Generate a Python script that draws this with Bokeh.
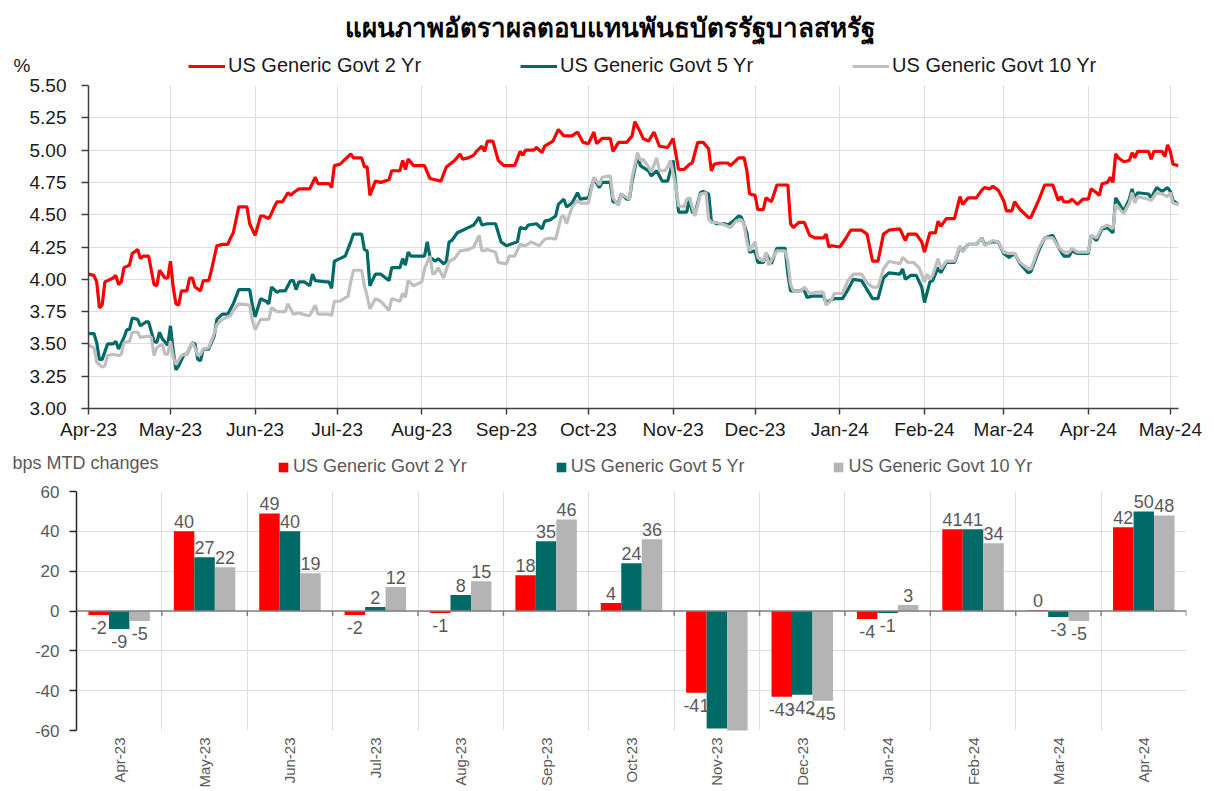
import numpy as np
import pandas as pd
from bokeh.plotting import figure
from bokeh.models import (ColumnDataSource, Range1d, FixedTicker, PrintfTickFormatter,
                          DatetimeTickFormatter, Legend, LegendItem, Label, LabelSet, Span)
from bokeh.layouts import column
from bokeh.core.properties import value
from bokeh.embed import file_html
from bokeh.resources import INLINE

# ---------------- data ----------------
TITLE = "แผนภาพอัตราผลตอบแทนพันธบัตรรัฐบาลสหรัฐ"
NAMES = ["US Generic Govt 2 Yr", "US Generic Govt 5 Yr", "US Generic Govt 10 Yr"]
START = "2023-04-01"          # day 0 of the day counts below
Y_TICKS = [3.00, 3.25, 3.50, 3.75, 4.00, 4.25, 4.50, 4.75, 5.00, 5.25, 5.50]

days_2y = [0, 2, 3, 4, 5, 6, 7, 9, 10, 11, 12, 13, 15, 16, 18, 19, 20, 22, 24, 25,
           26, 28, 29, 30, 31, 32, 33, 34, 36, 37, 38, 39, 41, 42, 44, 45, 47, 49, 51, 52,
           53, 55, 58, 59, 61, 63, 64, 66, 67, 68, 69, 71, 73, 74, 75, 77, 80, 81, 83, 84,
           88, 89, 90, 92, 94, 96, 97, 100, 101, 102, 103, 105, 107, 110, 111, 114, 115,
           116, 117, 119, 123, 125, 129, 131, 134, 136, 137, 139, 141, 142, 144, 145, 146, 148, 150, 152, 156,
           158, 159, 160, 163, 164, 166, 167, 170, 172, 174, 177, 179, 181, 183, 185, 186, 188, 191, 192, 194,
           197, 199, 200, 202, 203, 205, 207, 209, 212, 214, 215, 216, 218, 220, 221, 223, 225, 227, 228, 229,
           231, 234, 235, 238, 240, 241, 242, 244, 245, 247, 248, 250, 252, 256, 257, 258,
           260, 262, 264, 266, 269, 270, 271, 272, 275, 277, 279, 283, 285, 287, 289, 291, 293, 297, 299, 300,
           303, 305, 306, 308, 310, 311, 312, 314, 317, 319, 320, 322, 325, 327, 328, 330, 331, 333, 335, 336,
           338, 339, 341, 344, 345, 348, 350, 353, 355, 356, 357, 359, 360, 362, 364, 366, 367, 369, 370, 371,
           373, 374, 375, 376, 377, 379, 381, 382, 383, 384, 388, 389, 390, 393, 394, 395, 396, 397, 399]
yld_2y = [4.04, 4.03, 3.98, 3.78, 3.80, 3.98, 3.99, 4.01, 4.03, 3.96, 3.98, 4.09, 4.11, 4.20, 4.23, 4.16, 4.18, 4.18, 3.96, 3.95,
          4.07, 4.01, 4.01, 4.14, 3.94, 3.81, 3.80, 3.91, 3.91, 4.01, 4.01, 3.94, 3.91, 3.99, 3.99, 4.07, 4.26, 4.27, 4.27, 4.32,
          4.36, 4.56, 4.56, 4.43, 4.34, 4.49, 4.49, 4.47, 4.51, 4.56, 4.60, 4.60, 4.67, 4.65, 4.67, 4.70, 4.70, 4.70, 4.79, 4.74,
          4.74, 4.71, 4.88, 4.89, 4.93, 4.97, 4.94, 4.94, 4.87, 4.87, 4.65, 4.76, 4.75, 4.77, 4.84, 4.84, 4.92,
          4.85, 4.93, 4.88, 4.88, 4.78, 4.76, 4.87, 4.92, 4.97, 4.93, 4.94, 4.96, 4.99, 5.03, 4.99, 5.07, 5.07, 4.92, 4.88, 4.88,
          4.99, 4.96, 5.00, 5.00, 5.02, 4.98, 5.03, 5.07, 5.16, 5.11, 5.11, 5.14, 5.06, 5.05, 5.14, 5.05, 5.09, 5.09, 4.99, 5.06,
          5.06, 5.11, 5.22, 5.14, 5.09, 5.07, 5.14, 5.03, 5.02, 5.09, 4.97, 4.85, 4.85, 4.89, 4.90, 5.06, 5.06, 5.01, 4.84, 4.89,
          4.90, 4.90, 4.88, 4.94, 4.94, 4.84, 4.66, 4.65, 4.54, 4.54, 4.63, 4.60, 4.73, 4.73, 4.43, 4.40,
          4.44, 4.44, 4.34, 4.32, 4.32, 4.35, 4.25, 4.26, 4.25, 4.31, 4.38, 4.38, 4.35, 4.14, 4.14, 4.35, 4.38, 4.39, 4.30, 4.35,
          4.35, 4.29, 4.21, 4.36, 4.36, 4.45, 4.41, 4.47, 4.47, 4.64, 4.58, 4.63, 4.63, 4.69, 4.71, 4.70, 4.72, 4.69, 4.61, 4.53,
          4.53, 4.60, 4.54, 4.48, 4.48, 4.62, 4.73, 4.73, 4.61, 4.64, 4.60, 4.60, 4.62, 4.58, 4.62, 4.62, 4.70, 4.67, 4.65, 4.74,
          4.75, 4.79, 4.75, 4.97, 4.94, 4.91, 4.92, 4.98, 4.94, 4.99, 4.99, 4.93, 4.99, 4.99, 4.95, 5.04, 4.99, 4.89, 4.88]

days_5y = [0, 2, 3, 4, 5, 7, 9, 10, 11, 13, 14, 15, 16, 18, 19, 21, 22, 24, 25, 26,
           27, 29, 30, 31, 32, 33, 35, 36, 38, 39, 40, 41, 42, 44, 46, 47, 49, 51, 52, 53,
           55, 59, 60, 61, 63, 65, 66, 67, 69, 70, 72, 74, 75, 76, 77, 79, 81, 82, 83, 87,
           88, 89, 90, 92, 94, 96, 97, 100, 101, 102, 103, 105, 107, 110, 111, 114, 115,
           116, 117, 118, 123, 124, 125, 127, 128, 130, 131, 132, 133, 135, 137, 139, 141, 143, 144, 146, 149,
           151, 153, 157, 158, 160, 161, 164, 166, 167, 169, 171, 172, 174, 175, 177, 179, 180, 183, 185, 187,
           188, 191, 192, 194, 195, 197, 198, 199, 201, 202, 205, 206, 208, 210, 212, 214, 215, 216, 219, 220,
           221, 222, 224, 225, 227, 228, 230, 233, 234, 236, 238, 239, 241, 242, 244, 245, 247, 248, 250, 252,
           255, 256, 257,
           258, 260, 262, 263, 265, 269, 270, 273, 276, 278, 280, 283, 285, 287, 289, 291, 293, 297, 298, 299,
           301, 303, 305, 306, 308, 309, 311, 312, 314, 317, 319, 320, 322, 325, 327, 328, 331, 333, 335, 337,
           339, 341, 344, 345, 348, 350, 353, 355, 357, 359, 360, 362, 366, 367, 369, 371, 373, 375, 376, 378,
           379, 381, 382, 383, 384, 388, 389, 391, 393, 395, 396, 397, 399]
yld_5y = [3.58, 3.58, 3.51, 3.38, 3.38, 3.50, 3.50, 3.52, 3.46, 3.55, 3.61, 3.61, 3.70, 3.69, 3.64, 3.67, 3.67, 3.52, 3.51, 3.59,
          3.54, 3.49, 3.64, 3.45, 3.30, 3.33, 3.42, 3.42, 3.51, 3.50, 3.38, 3.37, 3.46, 3.46, 3.56, 3.69, 3.73, 3.73, 3.77, 3.81,
          3.92, 3.92, 3.80, 3.71, 3.85, 3.83, 3.81, 3.94, 3.90, 3.91, 3.91, 3.99, 3.99, 3.92, 3.98, 3.98, 3.95, 4.04, 3.99, 3.98,
          3.98, 3.93, 4.14, 4.16, 4.18, 4.29, 4.35, 4.35, 4.23, 4.22, 3.95, 4.04, 4.04, 3.99, 4.09, 4.09, 4.16,
          4.11, 4.21, 4.18, 4.18, 4.29, 4.17, 4.14, 4.16, 4.12, 4.14, 4.29, 4.30, 4.36, 4.38, 4.40, 4.42, 4.48, 4.42, 4.43, 4.43,
          4.29, 4.26, 4.29, 4.40, 4.39, 4.42, 4.43, 4.39, 4.45, 4.46, 4.49, 4.58, 4.62, 4.56, 4.59, 4.67, 4.62, 4.63, 4.78, 4.71,
          4.75, 4.75, 4.60, 4.59, 4.66, 4.62, 4.62, 4.76, 4.96, 4.88, 4.84, 4.80, 4.84, 4.76, 4.76, 4.92, 4.73, 4.52, 4.52, 4.63,
          4.52, 4.51, 4.67, 4.68, 4.66, 4.45, 4.43, 4.43, 4.42, 4.45, 4.49, 4.48, 4.36, 4.21, 4.22, 4.13, 4.13, 4.20, 4.12, 4.24,
          4.24, 4.04, 3.91,
          3.91, 3.91, 3.92, 3.86, 3.87, 3.87, 3.82, 3.85, 3.85, 3.92, 4.00, 3.99, 3.92, 3.85, 3.85, 4.01, 4.05, 4.04, 4.08, 4.00,
          4.03, 4.03, 3.94, 3.82, 3.98, 3.99, 4.09, 4.05, 4.13, 4.13, 4.25, 4.22, 4.27, 4.27, 4.32, 4.27, 4.29, 4.29, 4.20, 4.17,
          4.20, 4.12, 4.05, 4.06, 4.23, 4.32, 4.34, 4.25, 4.18, 4.18, 4.22, 4.20, 4.20, 4.34, 4.30, 4.39, 4.40, 4.36, 4.63, 4.56,
          4.53, 4.62, 4.70, 4.62, 4.67, 4.66, 4.63, 4.71, 4.68, 4.71, 4.68, 4.61, 4.58]

days_10y = [0, 2, 3, 5, 6, 7, 9, 11, 12, 13, 15, 16, 18, 19, 22, 23, 24, 25, 27, 28,
            29, 30, 31, 32, 34, 36, 38, 39, 40, 41, 42, 44, 46, 47, 49, 52, 53, 55, 59, 60,
            61, 63, 65, 66, 67, 69, 72, 73, 74, 75, 77, 80, 81, 83, 84, 88, 89, 90, 92, 95,
            96, 97, 100, 101, 102, 103, 105, 107, 110, 111, 114, 115,
            116, 117, 119, 122, 123, 125, 126, 127, 128, 130, 132, 134, 136, 139, 141, 143, 144, 146, 149, 150,
            153, 154, 156, 158, 160, 162, 165, 167, 169, 171, 173, 174, 175, 177, 179, 180, 183, 185, 187, 188,
            191, 192, 194, 195, 198, 199, 201, 202, 203, 205, 206, 208, 209, 211, 212, 213, 215, 216, 218, 219,
            220, 222, 224, 226, 227, 228, 230, 233, 235, 237, 239, 240, 241, 242, 244, 245, 247, 248, 249, 252,
            255, 256, 257, 258,
            261, 262, 264, 266, 269, 270, 272, 273, 276, 278, 280, 283, 285, 287, 289, 291, 293, 297, 298, 300,
            302, 304, 306, 307, 308, 309, 311, 312, 314, 317, 319, 320, 322, 325, 327, 328, 331, 333, 335, 337,
            339, 341, 344, 345, 348, 350, 353, 355, 357, 359, 360, 362, 366, 367, 369, 371, 373, 375, 376, 378,
            379, 381, 382, 383, 384, 388, 389, 391, 393, 395, 396, 397, 399]
yld_10y = [3.49, 3.47, 3.36, 3.32, 3.33, 3.41, 3.42, 3.41, 3.42, 3.51, 3.52, 3.59, 3.59, 3.55, 3.56, 3.55, 3.41, 3.47, 3.50, 3.42,
           3.42, 3.52, 3.40, 3.34, 3.41, 3.42, 3.51, 3.47, 3.41, 3.42, 3.46, 3.47, 3.58, 3.65, 3.69, 3.72, 3.76, 3.81, 3.80, 3.68,
           3.61, 3.69, 3.69, 3.69, 3.78, 3.75, 3.75, 3.81, 3.77, 3.73, 3.74, 3.72, 3.72, 3.80, 3.73, 3.73, 3.72, 3.83, 3.83, 3.87,
           3.98, 4.07, 4.07, 3.95, 3.87, 3.77, 3.85, 3.83, 3.76, 3.85, 3.83, 3.89,
           3.86, 3.99, 3.95, 3.98, 4.08, 4.18, 4.04, 4.05, 4.09, 4.01, 4.14, 4.16, 4.22, 4.23, 4.25, 4.34, 4.22, 4.23, 4.21, 4.13,
           4.12, 4.18, 4.18, 4.27, 4.26, 4.29, 4.26, 4.31, 4.32, 4.31, 4.48, 4.49, 4.43, 4.56, 4.61, 4.59, 4.59, 4.79, 4.73, 4.79,
           4.80, 4.63, 4.57, 4.66, 4.62, 4.79, 4.98, 4.92, 4.93, 4.87, 4.83, 4.94, 4.84, 4.84, 4.87, 4.92, 4.72, 4.57, 4.56, 4.62,
           4.63, 4.49, 4.66, 4.67, 4.47, 4.44, 4.44, 4.42, 4.40, 4.45, 4.46, 4.42, 4.29, 4.22, 4.29, 4.17, 4.14, 4.21, 4.11, 4.22,
           4.22, 4.14, 3.96, 3.91,
           3.91, 3.94, 3.89, 3.90, 3.90, 3.80, 3.84, 3.89, 3.89, 3.99, 4.04, 4.04, 3.97, 3.94, 3.94, 4.08, 4.14, 4.12, 4.17, 4.13,
           4.13, 4.09, 3.98, 4.04, 4.00, 4.03, 4.16, 4.08, 4.14, 4.14, 4.26, 4.21, 4.27, 4.27, 4.32, 4.26, 4.30, 4.29, 4.21, 4.20,
           4.20, 4.13, 4.08, 4.08, 4.25, 4.32, 4.32, 4.25, 4.21, 4.21, 4.24, 4.21, 4.21, 4.34, 4.32, 4.40, 4.42, 4.39, 4.58, 4.53,
           4.51, 4.59, 4.67, 4.59, 4.64, 4.62, 4.61, 4.67, 4.66, 4.64, 4.67, 4.59, 4.58]

# monthly changes (bps)
MONTHS = ["Apr-23", "May-23", "Jun-23", "Jul-23", "Aug-23", "Sep-23", "Oct-23",
          "Nov-23", "Dec-23", "Jan-24", "Feb-24", "Mar-24", "Apr-24"]
chg_2y = [-2, 40, 49, -2, -1, 18, 4, -41, -43, -4, 41, 0.4, 42]
chg_5y = [-9, 27, 40, 2, 8, 35, 24, -59, -42, -1, 41, -3, 50]
chg_10y = [-5, 22, 19, 12, 15, 46, 36, -61, -45, 3, 34, -5, 48]
BAR_TICKS = [-60, -40, -20, 0, 20, 40, 60]

# ---------------- styles ----------------
RED, TEAL, GREY = "#FF0000", "#006B66", "#BFBFBF"
BAR_GREY = "#B4B4B4"
FONT = "Liberation Sans"
DARK = "#1A1A1A"
MUTED = "#595959"
GRID = "#DEDEDE"
W = 1206
NAN = [float("nan")]


def blank(height):
    """A figure whose frame is the whole canvas, used for header text and legends."""
    f = figure(width=W, height=height, x_range=Range1d(0, 1), y_range=Range1d(0, 1),
               x_axis_location=None, y_axis_location=None,
               output_backend="svg", toolbar_location=None,
               min_border_left=0, min_border_right=0, min_border_top=0, min_border_bottom=0)
    f.frame_align = False
    f.grid.visible = False
    f.outline_line_color = None
    f.background_fill_color = "white"
    f.border_fill_color = "white"
    return f


# ---------------- header: title, %, legend ----------------
head = blank(76)
d2 = head.line(x=NAN, y=NAN, line_color=RED, line_width=3)
d5 = head.line(x=NAN, y=NAN, line_color=TEAL, line_width=3)
d10 = head.line(x=NAN, y=NAN, line_color=GREY, line_width=3)
head.add_layout(Legend(items=[LegendItem(label=NAMES[0], renderers=[d2]),
                              LegendItem(label=NAMES[1], renderers=[d5]),
                              LegendItem(label=NAMES[2], renderers=[d10])],
                       orientation="horizontal", location=(188, -1),
                       glyph_width=37, glyph_height=20, label_standoff=3, spacing=99,
                       padding=0, margin=0, border_line_color=None, background_fill_alpha=0,
                       label_text_font=FONT, label_text_font_size="20px", label_text_color=DARK,
                       label_height=20))
head.add_layout(Label(x=13, y=11, x_units="screen", y_units="screen", text="%",
                      text_font=FONT, text_font_size="19px", text_color=DARK,
                      text_baseline="middle", text_align="left"))
head.add_layout(Label(x=609, y=50, x_units="screen", y_units="screen", text=TITLE,
                      text_font="Noto Sans, sans-serif", text_font_size="26px",
                      text_font_style="bold", text_color="#000000",
                      text_baseline="middle", text_align="center"))

# ---------------- top: yields ----------------
t0 = pd.Timestamp(START)


def to_dates(d):
    return t0 + pd.to_timedelta(d, unit="D")


x2, x5, x10 = to_dates(days_2y), to_dates(days_5y), to_dates(days_10y)
x_end = max(x2.max(), x5.max(), x10.max())
month_starts = pd.date_range(t0, x_end, freq="MS")
month_ms = [int(m.value // 10**6) for m in month_starts]

top = figure(width=W, height=366, x_axis_type="datetime",
             x_range=Range1d(t0, x_end), y_range=Range1d(Y_TICKS[0], Y_TICKS[-1]),
             output_backend="svg", toolbar_location=None,
             min_border_left=88, min_border_right=28, min_border_top=9, min_border_bottom=34)
top.frame_align = False
top.outline_line_color = None
top.background_fill_color = "white"
top.border_fill_color = "white"

xt = FixedTicker(ticks=month_ms)
top.xaxis.ticker = xt
fmt = "%b-%y"
top.xaxis.formatter = DatetimeTickFormatter(microseconds=fmt, milliseconds=fmt, seconds=fmt,
                                            minsec=fmt, minutes=fmt, hourmin=fmt, hours=fmt,
                                            days=fmt, months=fmt, years=fmt)
yt = FixedTicker(ticks=Y_TICKS)
top.yaxis.ticker = yt
top.yaxis.formatter = PrintfTickFormatter(format="%.2f")
top.xgrid.ticker = xt
top.ygrid.ticker = yt
for g in (top.xgrid, top.ygrid):
    g.grid_line_color = GRID
    g.grid_line_width = 1

for ax in (top.xaxis, top.yaxis):
    ax.axis_line_color = "#404040"
    ax.axis_line_width = 1.5
    ax.major_tick_line_color = "#404040"
    ax.major_tick_line_width = 1.5
    ax.major_tick_in = 0
    ax.minor_tick_line_color = None
    ax.major_label_text_font = FONT
    ax.major_label_text_font_size = "19px"
    ax.major_label_text_color = DARK
top.xaxis.major_tick_out = 6
top.xaxis.major_label_standoff = 4
top.yaxis.major_tick_out = 7
top.yaxis.major_label_standoff = 15

top.line(x2, yld_2y, line_color=RED, line_width=3.2)
top.line(x5, yld_5y, line_color=TEAL, line_width=3.2)
top.line(x10, yld_10y, line_color=GREY, line_width=3.2)

# ---------------- header 2: bps label + bar legend ----------------
head2 = blank(40)
b2 = head2.vbar(x=NAN, top=NAN, width=1, fill_color=RED, line_color=None)
b5 = head2.vbar(x=NAN, top=NAN, width=1, fill_color=TEAL, line_color=None)
b10 = head2.vbar(x=NAN, top=NAN, width=1, fill_color=BAR_GREY, line_color=None)
head2.add_layout(Legend(items=[LegendItem(label=NAMES[0], renderers=[b2]),
                               LegendItem(label=NAMES[1], renderers=[b5]),
                               LegendItem(label=NAMES[2], renderers=[b10])],
                        orientation="horizontal", location=(277, 5),
                        glyph_width=12, glyph_height=12, label_standoff=4, spacing=88,
                        padding=0, margin=0, border_line_color=None, background_fill_alpha=0,
                        label_text_font=FONT, label_text_font_size="18px", label_text_color=MUTED,
                        label_height=18))
head2.add_layout(Label(x=12, y=20, x_units="screen", y_units="screen", text="bps MTD changes",
                       text_font=FONT, text_font_size="18px", text_color=MUTED,
                       text_baseline="middle", text_align="left"))

# ---------------- bottom: monthly changes ----------------
n = len(MONTHS)
centers = np.arange(n) + 0.5
BW = 0.24
bot = figure(width=W, height=308, x_range=Range1d(0, n), y_range=Range1d(BAR_TICKS[0], BAR_TICKS[-1]),
             output_backend="svg", toolbar_location=None,
             min_border_left=76, min_border_right=20, min_border_top=9, min_border_bottom=57)
bot.frame_align = False
bot.outline_line_color = None
bot.background_fill_color = "white"
bot.border_fill_color = "white"

xa = bot.xaxis[0]
xa.ticker = FixedTicker(ticks=list(centers))
xa.major_label_overrides = {float(c): m for c, m in zip(centers, MONTHS)}
xa.major_label_orientation = np.pi / 2
xa.axis_line_color = None
xa.major_tick_line_color = None
xa.minor_tick_line_color = None
xa.major_tick_out = 0
xa.major_tick_in = 0
xa.minor_tick_out = 0
xa.major_label_standoff = 7
xa.major_label_text_font = FONT
xa.major_label_text_font_size = "15px"
xa.major_label_text_color = MUTED

bt = FixedTicker(ticks=BAR_TICKS)
bot.yaxis.ticker = bt
bot.yaxis.formatter = PrintfTickFormatter(format="%d")
bot.ygrid.ticker = bt
bot.xgrid.ticker = FixedTicker(ticks=list(range(n + 1)))
for g in (bot.xgrid, bot.ygrid):
    g.grid_line_color = GRID
    g.grid_line_width = 1
ya = bot.yaxis[0]
ya.axis_line_color = "#262626"
ya.axis_line_width = 1.5
ya.major_tick_line_color = "#262626"
ya.major_tick_line_width = 1.5
ya.major_tick_in = 0
ya.major_tick_out = 7
ya.minor_tick_line_color = None
ya.major_label_text_font = FONT
ya.major_label_text_font_size = "17px"
ya.major_label_text_color = MUTED
ya.major_label_standoff = 10

pos = dict(x=[], y=[], t=[])
neg = dict(x=[], y=[], t=[])
lo, hi = BAR_TICKS[0], BAR_TICKS[-1]
for vals, col, off in ((chg_2y, RED, -BW), (chg_5y, TEAL, 0.0), (chg_10y, BAR_GREY, BW)):
    xs = centers + off
    src = ColumnDataSource(dict(x=xs, top=vals))
    bot.vbar(x="x", top="top", bottom=0, width=BW, fill_color=col, line_color=None, source=src)
    for xv, v in zip(xs, vals):
        if v < lo or v > hi:
            continue
        d = pos if v >= 0 else neg
        d["x"].append(xv)
        d["y"].append(v)
        d["t"].append(str(int(round(v))))

bot.add_layout(Span(location=0, dimension="width", line_color="#808080", line_width=1.5))
bot.segment(x0=list(range(n + 1)), y0=0, x1=list(range(n + 1)), y1=-2.5,
            line_color="#808080", line_width=1.5)

common = dict(text_font=value(FONT), text_font_size=value("18px"), text_color=MUTED,
              text_align="center")
bot.add_layout(LabelSet(x="x", y="y", text="t", source=ColumnDataSource(pos),
                        text_baseline="bottom", y_offset=3, **common))
bot.add_layout(LabelSet(x="x", y="y", text="t", source=ColumnDataSource(neg),
                        text_baseline="top", y_offset=-6, **common))

layout = column(head, top, head2, bot)
open("out.html", "w").write(file_html(layout, INLINE))
